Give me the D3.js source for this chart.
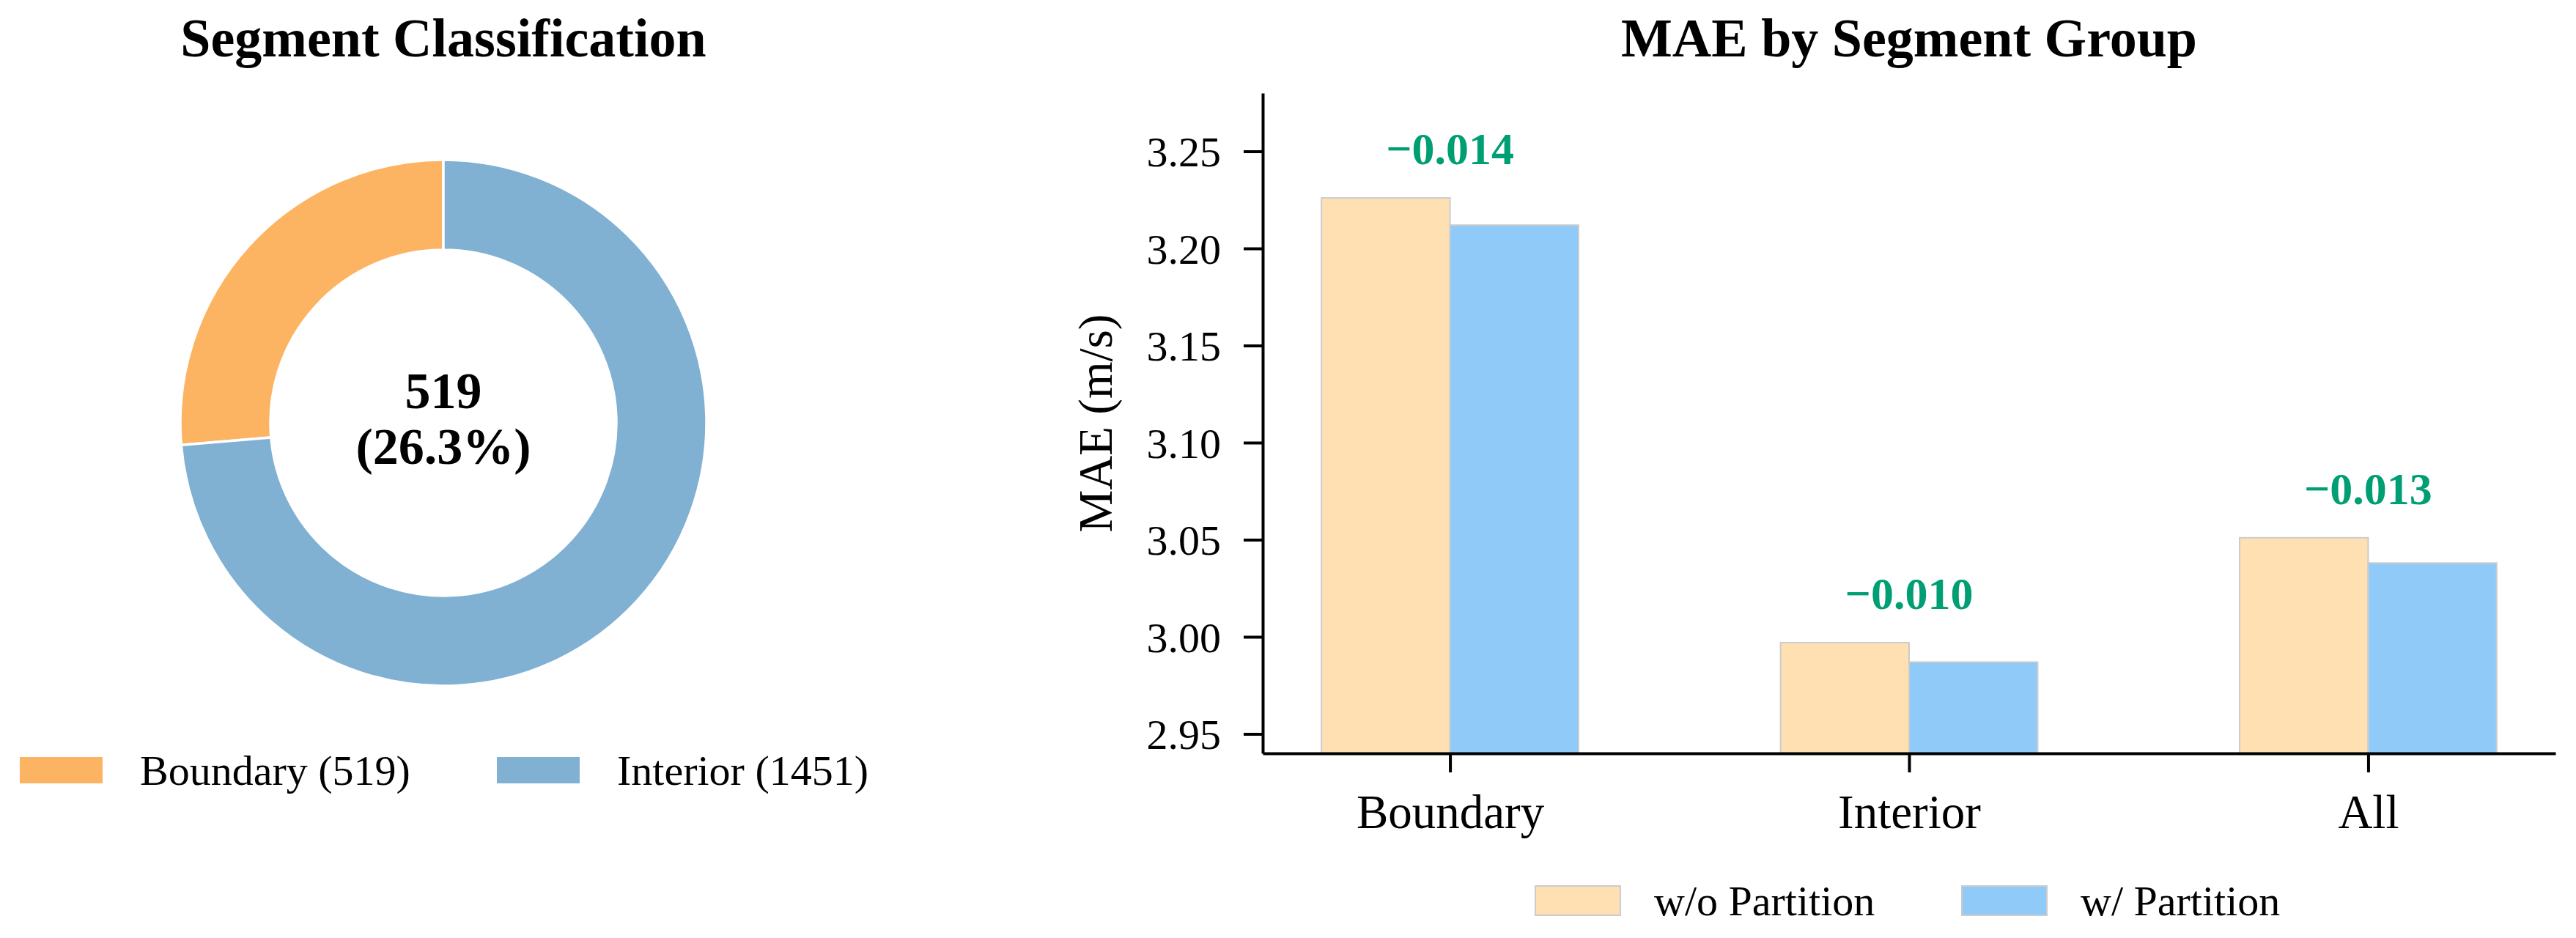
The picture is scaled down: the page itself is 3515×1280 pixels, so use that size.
<!DOCTYPE html>
<html>
<head>
<meta charset="utf-8">
<script src="https://cdn.jsdelivr.net/npm/d3@7"></script>
<style>
  body { margin: 0; background: #fff; }
  svg { display: block; font-family: "Liberation Serif", "Times New Roman", serif; }
</style>
</head>
<body>
<div id="chart"></div>
<script>
// segment counts (donut)
var segNames = ['Boundary', 'Interior'];
var segCounts = [519, 1451];
var segColors = ['#fdb462', '#80b1d3'];

// MAE per group (bars)
var groups = ['Boundary', 'Interior', 'All'];
var series = ['w/o Partition', 'w/ Partition'];
var maeWithout = [3.226, 2.997, 3.051];
var maeWith = [3.212, 2.987, 3.038];
var barColors = ['#ffe0b2', '#90caf9'];
var yTicks = [2.95, 3.00, 3.05, 3.10, 3.15, 3.20, 3.25];

var W = 3515, H = 1280;

var svg = d3.select('#chart').append('svg')
    .attr('width', W)
    .attr('height', H);

svg.append('rect').attr('width', W).attr('height', H).attr('fill', '#fff');

// ---------- left panel : donut ----------
var cx = 605, cy = 577, outerR = 359, innerR = 236;

svg.append('text')
    .attr('x', cx).attr('y', 77)
    .attr('text-anchor', 'middle')
    .style('font-size', '74px').style('font-weight', 'bold')
    .text('Segment Classification');

var segData = segNames.map(function(n, i){ return {name: n, count: segCounts[i], color: segColors[i]}; });
var total = d3.sum(segCounts);

// start at 12 o'clock, go counter-clockwise like matplotlib startangle=90
var pie = d3.pie().value(function(d){ return d.count; })
    .sort(null)
    .startAngle(0).endAngle(-2 * Math.PI);

var arc = d3.arc().innerRadius(innerR).outerRadius(outerR);

var donut = svg.append('g').attr('transform', 'translate(' + cx + ',' + cy + ')');

donut.selectAll('path')
    .data(pie(segData))
  .enter().append('path')
    .attr('d', arc)
    .attr('fill', function(d){ return d.data.color; })
    .attr('stroke', '#fff')
    .attr('stroke-width', 3.5);

var centerTxt = donut.append('text')
    .attr('text-anchor', 'middle')
    .style('font-size', '70px').style('font-weight', 'bold');
centerTxt.append('tspan').attr('x', 0).attr('y', -20).text(segCounts[0]);
centerTxt.append('tspan').attr('x', 0).attr('y', 56)
    .text('(' + d3.format('.1f')(segCounts[0] / total * 100) + '%)');

// donut legend
var legL = svg.append('g').attr('transform', 'translate(27,1033)');
var legItemsL = legL.selectAll('g')
    .data(segData)
  .enter().append('g')
    .attr('transform', function(d, i){ return 'translate(' + (i * 651) + ',0)'; });
legItemsL.append('rect')
    .attr('width', 113).attr('height', 36)
    .attr('fill', function(d){ return d.color; });
legItemsL.append('text')
    .attr('x', 164).attr('y', 38)
    .style('font-size', '58px')
    .text(function(d){ return d.name + ' (' + d.count + ')'; });

// ---------- right panel : grouped bars ----------
var pLeft = 1723, pRight = 3487, pTop = 127, pBottom = 1028;

svg.append('text')
    .attr('x', (pLeft + pRight) / 2).attr('y', 77)
    .attr('text-anchor', 'middle')
    .style('font-size', '74px').style('font-weight', 'bold')
    .text('MAE by Segment Group');

var x = d3.scalePoint()
    .domain(groups)
    .range([pLeft, pRight])
    .padding(0.408);

var bw = x.step() * 0.28;

var xSub = d3.scaleBand()
    .domain(series)
    .range([-bw, bw]);

var y = d3.scaleLinear()
    .domain([2.94, 3.28])
    .range([pBottom, pTop]);

var barData = groups.map(function(g, i){
  return {group: g, vals: [maeWithout[i], maeWith[i]]};
});

var gBars = svg.selectAll('.grp')
    .data(barData)
  .enter().append('g')
    .attr('class', 'grp')
    .attr('transform', function(d){ return 'translate(' + x(d.group) + ',0)'; });

gBars.selectAll('rect')
    .data(function(d){ return d.vals.map(function(v, j){ return {s: series[j], v: v, c: barColors[j]}; }); })
  .enter().append('rect')
    .attr('x', function(d){ return xSub(d.s); })
    .attr('width', xSub.bandwidth())
    .attr('y', function(d){ return y(d.v); })
    .attr('height', function(d){ return pBottom - y(d.v); })
    .attr('fill', function(d){ return d.c; })
    .attr('stroke', '#cccccc')
    .attr('stroke-width', 2);

// delta labels above each pair
gBars.append('text')
    .attr('text-anchor', 'middle')
    .attr('y', function(d){ return y(d3.max(d.vals)) - 46; })
    .style('font-size', '62px').style('font-weight', 'bold')
    .style('fill', '#009e73')
    .text(function(d){
      var delta = d.vals[1] - d.vals[0];
      return d3.format('.3f')(delta).replace('-', '\u2212');
    });

var yAxis = d3.axisLeft(y)
    .tickValues(yTicks)
    .tickFormat(d3.format('.2f'))
    .tickSize(26)
    .tickSizeOuter(0)
    .tickPadding(31);

var xAxis = d3.axisBottom(x)
    .tickSize(26)
    .tickSizeOuter(0)
    .tickPadding(30);

var gy = svg.append('g')
    .attr('transform', 'translate(' + pLeft + ',0)')
    .call(yAxis);
gy.selectAll('text').style('font-size', '58px').attr('dy', '0.35em');

var gx = svg.append('g')
    .attr('transform', 'translate(0,' + pBottom + ')')
    .call(xAxis);
gx.selectAll('text').style('font-size', '65px');

svg.selectAll('.domain').attr('stroke', '#000').attr('stroke-width', 4);
svg.selectAll('.tick line').attr('stroke', '#000').attr('stroke-width', 4);
svg.selectAll('.tick text').attr('fill', '#000').style('font-family', '"Liberation Serif", "Times New Roman", serif');

svg.append('text')
    .attr('transform', 'translate(1517,' + (pTop + pBottom) / 2 + ') rotate(-90)')
    .attr('text-anchor', 'middle')
    .style('font-size', '65px')
    .text('MAE (m/s)');

// bar legend
var legR = svg.append('g').attr('transform', 'translate(2094,1208)');
var legItemsR = legR.selectAll('g')
    .data(series)
  .enter().append('g')
    .attr('transform', function(d, i){ return 'translate(' + (i * 582) + ',0)'; });
legItemsR.append('rect')
    .attr('x', 1).attr('y', 1)
    .attr('width', 116).attr('height', 40)
    .attr('fill', function(d, i){ return barColors[i]; })
    .attr('stroke', '#cccccc')
    .attr('stroke-width', 2);
legItemsR.append('text')
    .attr('x', 163).attr('y', 41)
    .style('font-size', '58px')
    .text(function(d){ return d; });
</script>
</body>
</html>
